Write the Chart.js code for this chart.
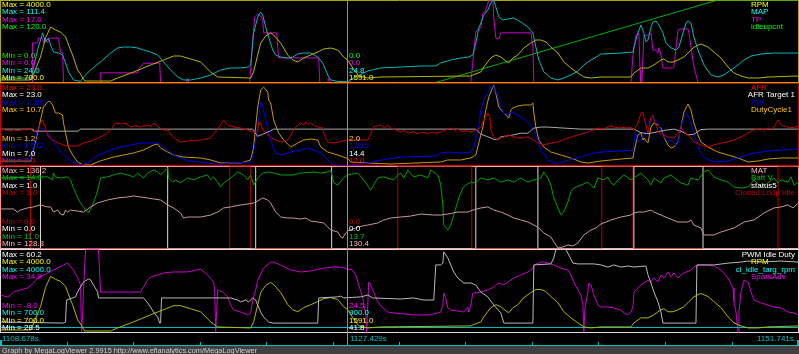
<!DOCTYPE html>
<html><head><meta charset="utf-8">
<script src="https://cdn.jsdelivr.net/npm/chart.js@4.4.1/dist/chart.umd.min.js"></script>
<style>
html,body{margin:0;padding:0;background:#000;width:799px;height:354px;overflow:hidden}
canvas{position:absolute;left:0}
</style></head><body>
<canvas id="p1" width="799" height="83" style="top:0px"></canvas>
<canvas id="p2" width="799" height="83" style="top:83px"></canvas>
<canvas id="p3" width="799" height="83" style="top:166px"></canvas>
<canvas id="p4" width="799" height="105" style="top:249px"></canvas>
<script>
// ---- time axis (seconds since window start) ----
const T_START = 1108.678, T_END = 1151.741, T_CURSOR = 1127.429;
const SPAN = T_END - T_START;
const CURSOR = T_CURSOR - T_START;
const TICKS = [0, 3.589, 7.177, 10.766, 14.354, 17.943, 21.532, 25.120, 28.709, 32.297, 35.886, 39.475, 43.063];
const TIME_LABELS = ['1108.678s.', '1127.429s', '1151.741s.'];
const FOOTER = 'Graph by MegaLogViewer 2.9915 http://www.efianalytics.com/MegaLogViewer';

// ---- panel 1 ----
const RPM = [[0,800],[1.62,800],[1.78,1042],[2.16,1726],[2.43,2491],[2.70,2933],[2.97,2813],[3.24,2732],[3.51,2531],[3.78,2008],[3.89,1807],[4.16,1203],[4.32,1042],[4.54,760],[5.94,760],[6.32,881],[7.18,1123],[8.10,1404],[8.80,1605],[9.34,1766],[9.72,1766],[10.26,1646],[10.80,1525],[11.34,1123],[11.72,921],[13.50,881],[13.66,1123],[13.88,1807],[14.04,2289],[14.31,2571],[14.58,2692],[14.74,2611],[15.12,2289],[15.50,1807],[15.77,1605],[16.04,1525],[16.36,1686],[16.74,1807],[17.12,1927],[17.44,2048],[17.82,2088],[18.20,2008],[18.52,1726],[18.75,1591],[19.01,1283],[19.33,962],[19.82,881],[20.52,921],[25.38,962],[25.49,1002],[25.92,1123],[26.08,1324],[26.46,1686],[26.73,1807],[27.00,1726],[27.27,1565],[27.43,1485],[27.65,1686],[27.92,1807],[28.24,2088],[28.62,2289],[28.89,2410],[29.16,2410],[29.43,2330],[29.70,2129],[30.08,1887],[30.40,1525],[30.78,1283],[31.16,1082],[31.48,921],[31.86,881],[32.40,921],[34.02,921],[34.18,1082],[34.56,1283],[34.94,1283],[35.26,1404],[35.64,1605],[35.80,1646],[36.02,1525],[36.29,1525],[36.56,1605],[36.88,1726],[37.15,1927],[37.37,2088],[37.64,2209],[37.80,2249],[38.18,2129],[38.50,1927],[38.88,1686],[39.26,1324],[39.58,1082],[39.96,962],[40.34,881],[40.88,881],[41.42,921],[43.06,962]];
const MAP = [[0,28.8],[1.67,28.8],[1.73,35.2],[2.00,58.6],[2.27,76.8],[2.43,67.2],[2.59,71.4],[2.70,64.0],[2.86,56.5],[3.13,55.4],[3.35,53.3],[3.51,44.8],[3.67,35.2],[3.94,26.7],[4.32,25.1],[4.48,29.9],[4.86,37.3],[5.40,45.9],[5.94,55.4],[6.32,60.8],[6.64,61.8],[7.02,61.8],[7.40,60.8],[7.72,58.6],[8.10,56.5],[8.48,53.3],[8.80,45.9],[9.18,37.3],[9.56,29.9],[9.88,26.7],[10.26,26.7],[10.80,28.8],[11.34,32.0],[11.88,37.3],[12.42,39.5],[12.96,39.5],[13.39,40.5],[13.50,42.7],[13.66,76.8],[13.88,93.8],[14.04,99.1],[14.15,95.9],[14.31,83.2],[14.47,72.5],[14.69,58.6],[14.85,53.3],[15.12,51.2],[15.50,50.1],[15.77,51.2],[16.04,54.4],[16.36,55.4],[16.74,55.4],[17.12,51.2],[17.39,44.8],[17.66,32.0],[17.82,26.7],[18.20,25.1],[18.75,24.8],[19.06,28.8],[19.82,36.3],[20.52,39.5],[21.60,40.5],[22.68,41.6],[23.49,41.6],[23.76,44.8],[24.30,48.0],[24.84,50.1],[25.27,51.2],[25.49,53.3],[25.65,66.1],[25.81,82.1],[25.92,87.4],[26.08,95.9],[26.30,101.3],[26.46,108.7],[26.57,111.4],[26.62,111.4],[26.73,104.5],[26.89,93.8],[27.11,90.6],[27.38,91.7],[27.70,92.8],[28.08,88.5],[28.46,83.2],[28.73,76.8],[28.89,61.8],[29.05,48.0],[29.32,35.2],[29.70,28.8],[30.08,26.7],[30.40,28.8],[30.78,32.0],[31.16,36.3],[31.48,42.7],[31.86,48.0],[32.24,52.2],[32.40,54.4],[33.48,55.4],[34.13,56.5],[34.18,61.8],[34.40,76.8],[34.56,85.3],[34.72,76.8],[34.83,67.2],[34.94,69.3],[35.10,83.2],[35.21,88.5],[35.37,89.6],[35.53,85.3],[35.75,76.8],[35.91,66.1],[36.18,60.8],[36.45,58.6],[36.61,61.8],[36.83,76.8],[36.99,87.4],[37.10,89.6],[37.26,87.4],[37.42,72.5],[37.64,58.6],[37.96,42.7],[38.34,32.0],[38.72,29.9],[39.04,32.0],[39.42,37.3],[39.80,42.7],[40.12,48.0],[40.50,52.2],[41.04,54.4],[41.74,55.4],[43.06,55.4]];
const TP = [[0,0],[1.70,0],[1.73,8.2],[2.00,8.2],[2.05,9.2],[2.27,9.2],[2.32,8.2],[2.43,9.2],[2.54,8.2],[2.65,9.2],[3.13,9.2],[3.24,6.3],[3.35,6.1],[3.40,0],[5.38,0],[5.41,2.0],[7.40,2.0],[7.45,2.8],[7.72,4.0],[8.59,4.0],[8.64,0],[10.04,0],[10.10,0.9],[10.15,0],[13.45,0],[13.61,8.8],[13.72,13.6],[13.88,14.2],[14.04,13.8],[14.15,13.0],[14.20,10.3],[14.90,10.3],[15.01,5.1],[17.17,5.1],[17.23,0],[17.66,0],[17.71,0.9],[17.82,0],[25.38,0],[25.65,10.5],[25.76,10.9],[25.92,11.3],[26.03,14.4],[26.14,14.6],[26.24,15.7],[26.35,17.0],[26.57,17.0],[26.62,13.4],[26.73,9.2],[26.89,9.0],[27.00,10.3],[28.62,10.3],[28.73,7.4],[28.78,0],[34.02,0],[34.13,5.7],[34.29,9.8],[34.45,10.3],[34.51,2.6],[34.56,0],[34.61,0],[34.72,9.8],[34.99,9.8],[35.10,10.3],[35.21,6.7],[35.37,6.7],[35.48,6.1],[35.53,7.2],[35.64,5.7],[35.75,3.0],[36.29,3.0],[36.34,3.2],[36.56,10.9],[36.72,11.1],[37.10,11.1],[37.15,10.3],[37.26,7.4],[37.42,3.2],[37.64,0],[43.06,0]];
const IDLEUP = [[0,0],[23.49,0],[38.61,120],[43.06,120]];

// ---- panel 2 ----
const AFR = [[0,13.9],[0.16,14.1],[0.32,13.8],[0.54,13.7],[0.70,14.0],[0.86,13.8],[1.08,13.9],[1.24,14.2],[1.40,13.9],[1.62,14.12],[1.78,13.54],[2.00,13.93],[2.16,15.29],[2.27,15.88],[2.43,14.32],[2.59,12.56],[2.81,11.98],[3.13,11.39],[3.40,11.00],[3.62,10.80],[4.16,10.80],[4.48,11.39],[4.86,11.78],[5.40,12.56],[5.78,13.34],[6.05,14.51],[6.21,15.29],[6.48,15.10],[6.75,15.29],[7.02,14.51],[7.30,14.8],[7.56,14.51],[7.94,14.90],[8.10,14.6],[8.26,15.29],[8.53,14.51],[8.80,13.93],[9.02,13.93],[9.34,12.37],[9.72,11.59],[10.10,11.78],[10.80,11.98],[11.34,12.37],[11.88,14.90],[12.04,15.88],[12.26,14.90],[12.58,14.51],[12.96,14.32],[13.34,13.93],[13.61,13.54],[13.88,13.54],[13.93,15.49],[14.04,15.29],[14.15,13.93],[14.31,13.34],[14.58,12.56],[14.85,11.98],[15.12,11.59],[15.50,11.98],[15.82,13.93],[16.04,14.90],[16.20,15.29],[16.35,14.9],[16.47,15.49],[16.60,15.0],[16.74,15.29],[16.95,14.8],[17.12,14.51],[17.39,14.32],[17.44,13.34],[17.66,11.59],[17.98,11.39],[18.75,12.0],[19.82,11.98],[20.14,14.51],[20.52,14.90],[20.68,14.32],[20.90,14.90],[21.10,14.2],[21.30,14.0],[21.60,13.54],[21.80,13.8],[22.00,13.3],[22.30,13.6],[22.50,13.2],[22.80,13.5],[23.00,13.2],[23.30,13.5],[23.50,13.3],[23.76,13.54],[24.00,13.9],[24.30,14.32],[24.50,13.9],[24.68,14.1],[24.90,13.6],[25.10,13.8],[25.38,13.54],[25.65,13.93],[25.92,14.51],[26.08,15.88],[26.30,17.24],[26.41,16.46],[26.46,13.93],[26.62,12.56],[26.84,11.98],[27.00,12.37],[27.16,12.56],[27.38,12.95],[27.70,12.56],[28.08,12.37],[28.46,12.56],[28.78,11.98],[29.00,11.39],[29.32,11.00],[29.70,11.39],[30.08,11.59],[30.62,12.37],[31.16,12.95],[31.70,13.54],[32.24,14.32],[32.50,14.1],[32.94,14.71],[33.20,14.4],[33.48,14.51],[33.75,14.3],[34.02,14.51],[34.18,13.93],[34.40,15.29],[34.56,17.24],[34.67,17.44],[34.72,16.46],[34.94,13.34],[35.10,16.46],[35.21,16.85],[35.26,15.88],[35.53,13.34],[35.80,12.95],[36.02,12.56],[36.34,12.37],[36.56,13.34],[36.72,14.51],[36.88,13.54],[37.10,12.95],[37.26,12.37],[37.42,11.59],[37.80,11.00],[38.18,10.61],[38.50,11.00],[38.88,11.39],[39.26,11.59],[39.58,11.98],[39.96,12.56],[40.34,13.34],[40.66,13.93],[41.00,14.2],[41.20,13.9],[41.42,14.32],[41.60,14.1],[41.74,14.51],[41.96,15.88],[42.12,14.90],[42.30,14.7],[42.50,14.51],[42.70,14.3],[42.90,14.6],[43.06,14.51]];
const AFR_TGT = [[0,14.1],[1.75,14.1],[1.80,13.7],[4.20,13.7],[4.30,14.1],[13.61,14.1],[13.88,12.7],[14.15,13.1],[14.58,13.8],[14.74,14.1],[25.65,14.1],[25.92,13.1],[26.30,12.6],[26.62,12.1],[26.84,12.1],[27.00,12.6],[27.38,12.8],[27.70,13.0],[28.08,13.3],[28.46,13.3],[28.78,14.3],[29.16,14.5],[29.54,14.5],[30.40,14.3],[31.32,14.1],[34.18,14.1],[34.56,13.4],[34.94,13.2],[35.48,13.6],[35.91,13.9],[36.34,14.1],[36.72,13.7],[37.10,12.95],[37.42,13.1],[37.80,14.0],[38.20,14.1],[43.06,14.1]];
const PW = [[0,1.91],[1.62,1.91],[1.78,2.84],[2.00,4.06],[2.16,4.20],[2.32,4.13],[2.54,3.84],[2.86,3.20],[3.24,2.48],[3.62,2.05],[3.94,1.69],[4.32,1.55],[4.70,1.69],[5.02,2.05],[5.40,2.34],[5.94,2.62],[6.48,2.84],[7.02,2.98],[7.56,3.13],[8.48,3.13],[8.64,2.98],[9.02,2.62],[9.34,2.27],[9.72,2.05],[10.10,1.84],[10.80,1.76],[11.77,1.58],[12.42,1.69],[13.50,1.76],[13.66,2.41],[13.88,4.28],[14.04,6.07],[14.15,5.71],[14.31,4.78],[14.47,3.84],[14.69,2.84],[14.85,2.41],[15.12,2.27],[15.66,2.48],[16.20,2.62],[16.58,2.77],[16.90,2.62],[17.28,2.41],[17.66,1.91],[17.98,1.55],[18.75,1.516],[19.82,1.69],[20.52,1.90],[21.60,2.12],[23.49,2.19],[23.76,2.41],[24.14,2.48],[24.84,2.41],[25.38,2.48],[25.54,2.84],[25.76,3.84],[25.92,5.50],[26.08,6.21],[26.30,6.72],[26.46,7.15],[26.62,7.22],[26.84,6.43],[27.00,5.71],[27.16,5.28],[27.38,5.14],[27.54,5.35],[27.70,5.28],[28.08,4.99],[28.46,4.63],[28.78,4.06],[29.00,3.34],[29.16,2.62],[29.54,1.91],[29.86,1.69],[30.24,1.69],[30.62,1.91],[31.32,2.12],[32.02,2.41],[32.40,2.48],[33.48,2.55],[34.13,2.62],[34.18,3.13],[34.29,3.84],[34.40,3.20],[34.56,3.34],[34.72,3.70],[34.94,4.56],[35.10,4.99],[35.21,5.14],[35.26,4.92],[35.48,4.56],[35.64,4.06],[35.80,3.56],[36.02,3.20],[36.18,3.34],[36.45,2.98],[36.56,3.13],[36.72,4.28],[36.88,4.99],[37.04,5.28],[37.15,4.92],[37.37,4.06],[37.53,3.34],[37.69,2.62],[37.96,2.12],[38.34,1.84],[38.72,1.76],[39.26,1.84],[39.58,1.98],[40.12,2.19],[40.66,2.41],[41.42,2.55],[42.12,2.62],[43.06,2.70]];
const DUTY = [[0,1.72],[1.62,1.72],[1.78,3.00],[2.00,4.97],[2.16,6.47],[2.32,7.98],[2.54,8.56],[2.65,8.67],[2.81,8.21],[2.97,7.28],[3.13,7.28],[3.35,7.05],[3.40,6.12],[3.51,4.97],[3.67,3.34],[3.89,2.42],[4.16,1.61],[4.48,1.26],[4.86,1.26],[5.24,1.61],[5.56,1.84],[6.10,2.18],[6.64,2.42],[7.18,2.65],[7.72,3.00],[8.26,3.57],[8.48,3.69],[8.64,3.23],[9.02,2.76],[9.34,2.42],[9.88,2.18],[10.80,2.07],[11.34,1.84],[11.88,1.49],[12.96,1.49],[13.50,1.84],[13.66,3.34],[13.88,7.98],[14.04,9.95],[14.20,10.29],[14.42,9.72],[14.47,8.79],[14.58,8.44],[14.74,6.47],[15.01,4.97],[15.28,4.15],[15.66,3.34],[16.04,3.81],[16.36,4.15],[16.74,4.27],[17.12,4.15],[17.28,3.34],[17.66,2.76],[18.20,2.42],[18.75,2.0],[18.90,1.61],[19.82,1.49],[21.06,1.37],[23.76,1.61],[24.14,1.84],[24.84,1.84],[25.38,2.07],[25.65,2.42],[25.81,3.81],[26.03,5.66],[26.19,7.63],[26.35,9.14],[26.57,10.29],[26.62,10.53],[26.73,9.60],[26.89,7.98],[27.11,7.40],[27.27,7.05],[27.43,6.70],[27.54,7.63],[27.65,7.86],[27.92,8.09],[28.24,8.21],[28.62,8.21],[28.73,8.44],[28.78,7.28],[28.89,5.66],[29.05,4.15],[29.32,3.34],[29.70,2.76],[30.24,2.42],[30.78,2.07],[31.32,1.61],[31.70,1.49],[32.40,1.72],[33.48,1.95],[34.13,2.07],[34.18,2.76],[34.40,4.73],[34.56,4.97],[34.67,4.15],[34.72,4.39],[34.94,3.81],[35.10,5.66],[35.26,6.12],[35.48,5.89],[35.64,5.54],[35.80,4.50],[36.02,3.57],[36.18,3.23],[36.34,3.34],[36.56,3.92],[36.72,5.66],[36.88,7.40],[37.10,8.32],[37.26,7.63],[37.42,6.12],[37.64,4.73],[37.80,3.92],[38.18,3.34],[38.72,2.76],[39.26,2.42],[39.80,2.07],[40.34,1.61],[40.88,1.72],[41.42,1.95],[42.12,2.07],[43.06,2.07]];

// ---- panel 3 ----
const MAT = [[0,132.37],[0.70,132.37],[0.92,132.09],[1.08,132.27],[1.46,132.46],[1.78,132.55],[2.16,132.73],[2.54,132.55],[2.70,132.55],[2.86,132.09],[3.08,132.27],[3.24,131.91],[3.40,131.82],[3.51,132.27],[3.62,132.09],[3.78,132.27],[4.16,132.18],[4.48,132.09],[4.86,132.55],[5.24,132.91],[5.78,133.18],[6.32,133.36],[6.86,133.45],[7.18,133.54],[7.56,133.45],[7.94,133.36],[8.26,133.27],[8.64,133.18],[9.02,132.73],[9.34,132.46],[9.72,132.00],[9.88,131.55],[10.10,131.64],[10.80,131.64],[11.34,131.82],[11.72,132.09],[12.04,132.46],[12.42,132.55],[12.96,132.73],[13.34,132.82],[13.66,132.91],[13.88,133.09],[14.15,133.36],[14.42,133.18],[14.58,132.91],[14.85,132.09],[15.12,131.64],[15.50,131.55],[15.82,131.55],[16.20,131.46],[16.47,131.55],[16.74,131.28],[17.12,131.19],[17.44,131.10],[17.66,130.74],[17.82,130.47],[18.20,130.29],[18.36,129.84],[18.47,129.75],[18.63,130.20],[18.75,130.4],[18.90,130.47],[19.28,130.74],[19.82,130.92],[20.36,131.10],[20.68,131.37],[21.06,131.55],[21.60,131.64],[22.14,131.73],[22.68,131.91],[23.38,131.82],[23.76,131.82],[24.14,131.91],[24.68,132.09],[25.22,132.09],[25.49,132.27],[25.92,132.46],[26.30,132.55],[26.62,132.27],[27.00,132.09],[27.38,131.82],[27.70,131.55],[28.08,131.37],[28.46,131.19],[28.78,130.92],[29.05,130.65],[29.32,130.20],[29.70,129.84],[29.86,129.39],[30.08,128.85],[30.35,128.94],[30.62,129.12],[30.89,129.03],[31.16,129.30],[31.48,130.02],[31.86,130.47],[32.13,130.65],[32.40,131.01],[32.94,131.37],[33.48,131.64],[34.02,131.82],[34.18,132.00],[34.40,132.09],[34.72,132.09],[35.10,132.27],[35.26,132.09],[35.64,131.82],[36.02,131.55],[36.56,131.19],[37.10,131.19],[37.26,131.37],[37.42,130.92],[37.80,130.65],[37.96,130.02],[38.50,130.02],[38.88,130.29],[39.58,130.65],[40.12,131.19],[40.66,131.37],[41.20,132.00],[41.74,132.46],[42.12,132.55],[42.50,132.73],[42.77,132.46],[43.06,132.91]];
const BATT = [[0,13.58],[2.32,13.62],[2.54,13.62],[2.81,13.51],[2.86,13.76],[2.97,13.62],[3.24,13.58],[3.62,13.62],[3.78,13.51],[3.94,13.21],[4.16,12.88],[4.32,12.66],[4.59,12.41],[4.75,12.30],[4.97,12.59],[5.13,12.88],[5.29,13.25],[5.40,13.58],[5.78,13.62],[6.10,13.69],[6.48,13.76],[6.86,13.69],[7.18,13.62],[7.40,13.76],[7.72,13.58],[7.94,13.76],[8.26,13.87],[8.48,13.80],[8.64,13.69],[9.02,13.95],[9.07,13.58],[9.29,13.43],[9.45,13.51],[9.72,13.40],[10.10,13.58],[10.42,13.51],[10.80,13.62],[11.18,13.69],[11.34,13.51],[11.50,13.62],[11.72,13.43],[11.88,13.25],[12.04,13.40],[12.42,13.58],[12.80,13.80],[13.12,13.69],[13.34,13.51],[13.50,13.69],[13.66,13.32],[13.88,13.58],[14.15,13.76],[14.42,13.80],[14.74,13.76],[15.12,13.69],[15.82,13.69],[16.20,13.76],[16.90,13.80],[17.28,13.76],[17.66,13.80],[17.82,13.87],[17.98,13.40],[18.20,13.32],[18.52,13.58],[18.75,13.70],[19.28,13.76],[19.60,13.51],[19.98,13.14],[20.36,13.58],[20.68,13.62],[21.22,13.51],[21.44,13.69],[21.60,13.76],[21.76,13.58],[21.98,13.87],[22.30,13.62],[22.68,13.69],[23.06,13.58],[23.22,13.87],[23.60,13.69],[23.76,13.32],[23.87,12.59],[23.92,11.86],[24.14,11.68],[24.30,11.86],[24.46,12.23],[24.73,12.85],[24.95,13.21],[25.11,13.32],[25.38,13.43],[25.65,13.40],[25.92,13.58],[26.30,13.51],[26.62,13.58],[27.00,13.43],[27.38,13.51],[27.70,13.43],[28.08,13.58],[28.46,13.43],[28.78,13.51],[29.16,13.58],[29.32,13.80],[29.54,13.58],[29.70,13.32],[29.86,12.85],[30.08,12.48],[30.24,12.23],[30.40,12.34],[30.62,12.70],[30.78,13.07],[30.94,13.21],[31.32,13.32],[31.70,13.43],[32.02,13.21],[32.24,13.58],[32.56,13.51],[32.78,13.62],[32.94,13.40],[33.10,13.32],[33.32,13.51],[33.64,13.69],[34.02,13.51],[34.56,13.76],[34.94,13.51],[35.10,13.32],[35.26,13.58],[35.64,13.40],[35.80,13.58],[36.18,13.69],[36.72,13.40],[37.10,13.32],[37.26,13.58],[37.64,13.51],[37.96,13.80],[38.18,13.87],[38.50,13.62],[38.88,13.51],[39.26,13.43],[39.58,13.25],[39.96,13.21],[40.34,13.25],[40.66,13.51],[41.04,13.25],[41.42,13.40],[41.74,13.58],[41.96,13.40],[42.12,13.51],[42.50,13.43],[42.66,13.62],[42.82,13.32],[43.06,13.43]];
const STATUS5 = [[0,0],[2.16,1],[9.02,0],[13.77,1],[17.87,0],[25.65,1],[29.00,0],[34.18,1],[37.91,0],[43.06,0]];
const CL_IDLE = [[0,1],[1.62,0],[12.37,1],[13.50,0],[21.44,1],[25.43,0],[32.45,1],[34.13,0],[41.96,1],[43.06,1]];

// ---- panel 4 ----
const PWM_IDLE = [[0,32.5],[3.40,32.1],[3.51,32.5],[3.56,40.9],[3.89,41.7],[4.05,42.1],[4.16,44.0],[4.32,45.9],[4.48,47.8],[4.75,48.9],[4.86,48.6],[5.02,46.6],[5.24,44.0],[5.29,41.7],[7.72,41.7],[7.94,39.8],[8.10,38.2],[8.26,36.3],[8.48,34.4],[8.59,32.1],[8.64,32.1],[8.69,41.7],[12.42,41.7],[12.80,40.9],[12.96,40.2],[13.23,40.9],[13.39,40.2],[13.61,41.7],[13.77,40.9],[13.88,39.0],[14.04,36.3],[14.20,34.4],[14.47,32.5],[14.69,32.1],[17.12,32.1],[17.17,41.7],[18.20,42.1],[18.36,42.4],[18.52,41.7],[18.75,41.8],[19.44,42.1],[19.82,42.8],[20.09,41.7],[21.60,41.3],[22.30,41.7],[22.84,40.9],[23.38,40.9],[23.49,54.3],[23.76,54.3],[23.87,55.0],[23.92,59.3],[24.14,57.0],[24.30,54.3],[24.46,51.6],[24.68,49.3],[25.00,47.4],[25.38,47.4],[25.65,46.6],[25.92,44.0],[26.30,42.1],[26.62,39.0],[27.00,36.0],[27.16,32.1],[28.73,32.1],[28.78,54.3],[29.70,54.7],[29.86,57.0],[29.97,60.2],[30.51,60.2],[30.67,58.1],[30.89,55.0],[31.16,54.7],[32.02,54.7],[32.40,54.3],[32.78,53.5],[33.10,54.3],[33.48,53.5],[33.86,53.9],[34.18,53.5],[34.83,53.9],[34.94,50.5],[35.10,47.4],[35.26,44.0],[35.48,40.2],[35.64,36.3],[35.75,32.1],[37.53,32.1],[37.58,54.3],[38.50,54.3],[39.26,55.0],[39.96,55.4],[40.34,55.8],[41.04,55.4],[42.12,55.8],[43.06,55.4]];
const CL_TARG = [[0,900],[43.06,900]];
const SPARK = [[0,11.4],[0.16,10.9],[0.38,10.4],[0.54,11.4],[0.70,12.9],[1.08,14.0],[1.46,15.0],[1.78,17.6],[2.00,20.2],[2.32,21.7],[2.86,24.3],[3.40,26.9],[3.62,27.9],[3.94,24.3],[4.16,20.2],[4.32,16.6],[4.37,-8.0],[4.43,1.1],[4.48,14.0],[4.59,34.9],[5.29,34.9],[5.40,12.9],[7.56,12.9],[7.72,15.5],[7.94,19.1],[8.10,20.7],[8.48,21.7],[8.80,22.8],[9.34,23.3],[10.10,23.3],[10.80,24.8],[11.18,21.7],[11.50,18.1],[11.56,14.0],[11.61,-8.0],[11.72,14.0],[11.99,12.9],[12.26,10.4],[12.42,6.2],[12.58,3.6],[12.96,2.6],[13.34,1.1],[13.50,2.1],[13.61,8.8],[13.77,14.0],[13.88,19.1],[14.20,25.3],[14.58,28.4],[14.74,28.4],[15.12,26.9],[15.66,24.3],[16.20,23.3],[16.74,23.8],[17.44,25.3],[17.98,25.9],[18.52,25.6],[18.75,24.5],[18.95,24.6],[19.17,21.7],[19.33,16.6],[19.55,9.8],[19.71,1.1],[19.76,-8.0],[19.87,18.1],[19.98,16.6],[20.14,12.9],[20.36,7.8],[20.63,4.7],[20.90,2.6],[21.22,2.1],[22.30,1.1],[23.06,1.1],[23.38,1.6],[23.76,2.6],[23.87,6.2],[23.92,12.4],[24.03,9.8],[24.14,4.7],[24.30,3.6],[25.00,2.6],[25.22,5.2],[25.27,2.6],[25.38,6.2],[25.49,12.4],[25.92,12.9],[26.30,14.0],[26.62,15.5],[26.84,17.6],[27.16,16.6],[27.38,18.1],[27.70,20.2],[28.08,21.7],[28.46,23.3],[28.73,25.3],[28.78,26.9],[29.16,28.4],[29.32,28.4],[29.54,27.9],[29.86,26.9],[30.24,25.3],[30.62,24.3],[30.78,21.7],[30.94,18.1],[31.16,14.0],[31.32,11.4],[31.43,6.2],[31.48,-8.0],[31.54,4.7],[31.70,12.9],[31.75,17.6],[31.86,16.6],[32.02,11.4],[32.24,6.2],[32.40,5.2],[32.78,5.2],[33.10,4.7],[33.48,3.6],[33.64,2.1],[33.86,1.1],[34.02,2.6],[34.13,5.2],[34.18,12.9],[34.40,15.0],[34.56,16.6],[34.72,17.6],[34.94,19.1],[35.10,18.1],[35.26,20.2],[35.48,18.1],[35.64,21.7],[35.80,20.2],[36.02,23.3],[36.18,20.7],[36.34,22.8],[36.56,20.2],[36.72,21.7],[36.88,22.8],[37.26,24.3],[37.42,25.9],[37.64,26.9],[38.18,26.9],[38.50,26.4],[38.88,24.3],[39.26,20.2],[39.53,15.0],[39.58,7.8],[39.69,2.6],[39.80,-8.0],[39.85,2.6],[39.96,12.9],[40.12,19.1],[40.34,18.1],[40.50,12.9],[40.66,8.8],[41.04,7.3],[41.42,6.2],[41.74,5.2],[42.12,4.7],[42.50,2.6],[42.82,2.1],[43.06,1.1]];

// ---- panel descriptions (names, ranges, cursor readouts) ----
const P1_NAMES = ['RPM','MAP','TP','idleupcnt'];
const P1_MAX = [4000.0, 111.4, 17.0, 120.0], P1_MIN = [700.0, 24.0, 0.0, 0.0];
const P1_CUR = ['1591.0','24.8','0.0','0.0'];
const P2_NAMES = ['AFR','AFR Target 1','PW','DutyCycle1'];
const P2_MAX = [23.0, 23.0, 7.397, 10.7], P2_MIN = [7.0, 7.0, 1.512, 1.2];
const P2_CUR = ['12.0','14.4','1.515','2.0'];
const P3_NAMES = ['MAT','Batt V','status5','Closed Loop Idle'];
const P3_MAX = [136.2, 14.0, 1.0, 1.0], P3_MIN = [128.8, 11.0, 0.0, 0.0];
const P3_CUR = ['130.4','13.7','0.0','0.0'];
const P4_NAMES = ['PWM Idle Duty','RPM','cl_idle_targ_rpm','SparkAdv'];
const P4_MAX = [60.2, 4000.0, 4000.0, 34.9], P4_MIN = [28.5, 700.0, 700.0, -8.0];
const P4_CUR = ['41.8','1591.0','900.0','24.5'];

const FONT = '8px "Liberation Sans", Arial, sans-serif';

const PANELS = [
  {id:'p1', series:[RPM,MAP,TP,IDLEUP], names:P1_NAMES, max:P1_MAX, min:P1_MIN, cur:P1_CUR, dec:[1,1,1,1],
   line:['#b4b400','#00b8b8','#c800c8','#00b000'], text:['#ffff00','#00ffff','#ff00ff','#00ff00'],
   border:'#a8a800', boxB:82, padB:0.5, bottomAfter:true, rowOff:0},
  {id:'p2', series:[AFR,AFR_TGT,PW,DUTY], names:P2_NAMES, max:P2_MAX, min:P2_MIN, cur:P2_CUR, dec:[1,1,3,1],
   line:['#c80000','#a8a8a8','#0000f0','#c89600'], text:['#ff0000','#ffffff','#0000ff','#ffc800'],
   border:'#c80000', boxB:82, padB:0.5, rowOff:0},
  {id:'p3', series:[MAT,BATT,STATUS5,CL_IDLE], names:P3_NAMES, max:P3_MAX, min:P3_MIN, cur:P3_CUR, dec:[1,1,1,1],
   line:['#c89898','#00a000','#d8d8d8','#b00000'], text:['#ffb8b8','#00c800','#ffffff','#c80000'],
   border:'#ff9090', boxB:82, padB:0.5, stepped:[false,false,true,true], rowOff:0},
  {id:'p4', series:[PWM_IDLE,RPM,CL_TARG,SPARK], names:P4_NAMES, max:P4_MAX, min:P4_MIN, cur:P4_CUR, dec:[1,1,1,1],
   line:['#b8b8b8','#b4b400','#00c0c0','#c800c8'], text:['#ffffff','#ffff00','#00ffff','#ff00ff'],
   border:'#e0e0e0', boxB:83, padB:21.5, rowOff:1, axis:true}
];

function pts(a){ return a.map(p => ({x:p[0], y:p[1]})); }

function decor(P){
  return {
    id:'decor',
    beforeDatasetsDraw(chart){
      const c = chart.ctx; c.save();
      c.strokeStyle = P.border; c.lineWidth = 1; c.beginPath();
      c.moveTo(0,0.5); c.lineTo(799,0.5);
      c.moveTo(0.5,0); c.lineTo(0.5,P.boxB+1);
      c.moveTo(798.5,0); c.lineTo(798.5,P.boxB+1);
      if(!P.bottomAfter){ c.moveTo(0,P.boxB+0.5); c.lineTo(799,P.boxB+0.5); }
      c.stroke(); c.restore();
    },
    afterDatasetsDraw(chart){
      const c = chart.ctx, xs = chart.scales.x; c.save();
      if(P.bottomAfter){ c.strokeStyle=P.border; c.lineWidth=1; c.beginPath(); c.moveTo(0,P.boxB+0.5); c.lineTo(799,P.boxB+0.5); c.stroke(); }
      c.font = FONT; c.textBaseline = 'middle'; c.textAlign = 'left';
      const rMax = i => 4.5 + P.rowOff + i*7.5;
      const rMin = j => 55.5 + P.rowOff + j*7.5;
      for(let i=0;i<4;i++){
        c.fillStyle = P.text[i];
        c.fillText('Max = ' + P.max[i].toFixed(P.dec[i]), 2, rMax(i));
        const w = c.measureText(P.names[i]).width;
        c.fillText(P.names[i], Math.min(751, 795 - w), rMax(i));
      }
      const cx = Math.floor(xs.getPixelForValue(CURSOR)) + 0.5;
      for(let j=0;j<4;j++){
        const i = 3-j; c.fillStyle = P.text[i];
        c.fillText('Min = ' + P.min[i].toFixed(P.dec[i]), 2, rMin(j));
        c.fillText(P.cur[i], cx + 1.5, rMin(j));
      }
      const h = P.axis ? 97 : chart.height;
      c.strokeStyle = '#20c0c0'; c.lineWidth = 1; c.beginPath(); c.moveTo(cx,0); c.lineTo(cx,h); c.stroke();
      if(P.axis){
        c.fillStyle = '#00c0c0';
        c.fillRect(0,96,799,1);
        TICKS.forEach((t,k)=>{
          let px = Math.floor(xs.getPixelForValue(t));
          const tall = (k===0 || k===TICKS.length-1);
          if(k===TICKS.length-1) px = 797;
          c.fillRect(px, tall?91:93, tall?2:1, tall?5:3);
        });
        c.fillText(TIME_LABELS[0], 2, 89.5);
        c.fillText(TIME_LABELS[1], cx + 2.5, 89.5);
        c.textAlign = 'right';
        c.fillText(TIME_LABELS[2], 796, 89.5);
        c.fillStyle = '#404040'; c.fillRect(0,97,799,8);
        c.fillStyle = '#d0d0d0'; c.textAlign='left'; c.textBaseline='alphabetic';
        c.fillText(FOOTER, 2, 104, 255);
      }
      c.restore();
    }
  };
}

PANELS.forEach(P=>{
  const datasets = P.series.map((s,i)=>({
    data: pts(s), yAxisID:'y'+i, borderColor:P.line[i], borderWidth:1,
    pointRadius:0, fill:false, tension:0, stepped: P.stepped ? P.stepped[i] : false
  }));
  const scales = {x:{type:'linear', min:0, max:SPAN, display:false}};
  for(let i=0;i<4;i++) scales['y'+i] = {type:'linear', min:P.min[i], max:P.max[i], display:false};
  new Chart(document.getElementById(P.id), {
    type:'line', data:{datasets},
    options:{responsive:false, animation:false, events:[],
      layout:{padding:{top:0.5, left:0.5, right:0.5, bottom:P.padB}},
      plugins:{legend:{display:false}, tooltip:{enabled:false}},
      scales},
    plugins:[decor(P)]
  });
});
</script>
</body></html>
